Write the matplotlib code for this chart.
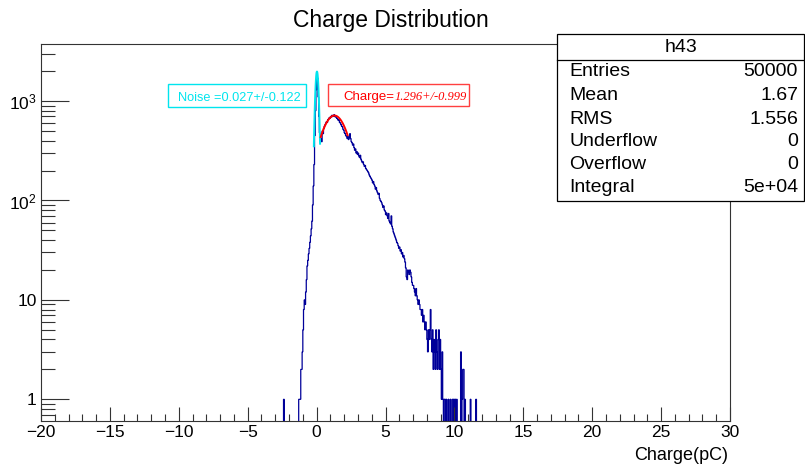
import numpy as np
import matplotlib
matplotlib.use("Agg")
import matplotlib.pyplot as plt
from matplotlib.patches import Rectangle
from matplotlib.lines import Line2D
from matplotlib.ticker import FixedLocator, FixedFormatter, MultipleLocator

# ---------------- data ----------------
title = "Charge Distribution"
x_label = "Charge(pC)"
x_range = (-20.0, 30.0)
bin_width = 0.05
# counts per 0.05 pC bin starting at -2.5 pC
counts_start = -2.5
counts = [
    0, 0, 1, 0, 0, 0, 0, 0, 0, 0,            # -2.50 .. -2.05
    0, 0, 0, 0, 0, 0, 0, 0, 0, 0,            # -2.00 .. -1.55
    0, 0, 0, 0, 1, 1, 1, 2, 2, 3,            # -1.50 .. -1.05
    5, 8, 10, 9, 12, 16, 22, 25, 29, 33,     # -1.00 .. -0.55
    38, 44, 52, 62, 90, 140, 230, 450, 800, 1300,   # -0.50 .. -0.05
    1950, 1700, 1100, 700, 480, 400, 420, 390, 500, 470,  # 0.00 .. 0.45
    530, 560, 580, 600, 620, 610, 650, 660, 680, 670,     # 0.50 .. 0.95
    700, 690, 720, 700, 710, 730, 700, 690, 700, 670,     # 1.00 .. 1.45
    660, 640, 650, 610, 600, 580, 560, 550, 520, 510,     # 1.50 .. 1.95
    480, 470, 450, 440, 420, 440, 410, 430, 470, 420,     # 2.00 .. 2.45
    390, 380, 360, 370, 340, 320, 330, 300, 310, 290,     # 2.50 .. 2.95
    300, 280, 270, 285, 260, 250, 240, 245, 230, 220,     # 3.00 .. 3.45
    225, 210, 205, 200, 195, 190, 180, 175, 170, 165,     # 3.50 .. 3.95
    160, 150, 155, 145, 140, 130, 135, 125, 120, 115,     # 4.00 .. 4.45
    118, 105, 100, 98, 95, 90, 85, 88, 80, 78,            # 4.50 .. 4.95
    72, 75, 70, 66, 74, 62, 60, 58, 70, 55,               # 5.00 .. 5.45
    52, 48, 46, 44, 42, 40, 38, 37, 35, 33,               # 5.50 .. 5.95
    34, 31, 32, 29, 30, 27, 28, 26, 24, 21,               # 6.00 .. 6.45
    17, 16, 20, 19, 18, 20, 19, 17, 15, 14,               # 6.50 .. 6.95
    14, 13, 12, 11, 13, 11, 10, 9, 10, 9,                 # 7.00 .. 7.45
    8, 8, 7, 8, 6, 7, 6, 5, 6, 5,                         # 7.50 .. 7.95
    4, 3, 5, 4, 5, 8, 4, 3, 5, 2,                         # 8.00 .. 8.45
    4, 3, 2, 5, 3, 2, 4, 5, 2, 4,                         # 8.50 .. 8.95
    2, 1, 3, 1, 0, 1, 1, 0, 1, 0,                         # 9.00 .. 9.45
    0, 1, 0, 0, 1, 0, 0, 1, 1, 0,                         # 9.50 .. 9.95
    1, 1, 0, 1, 0, 0, 0, 0, 0, 3,                         # 10.00 .. 10.45
    0, 1, 2, 2, 0, 1, 0, 0, 0, 0,                         # 10.50 .. 10.95
    0, 0, 0, 1, 0, 0, 0, 0, 0, 0,                         # 11.00 .. 11.45
    0, 1, 0, 0, 0, 0, 0, 0, 0, 0,                         # 11.50 .. 11.95
]

# fit results (Gaussian fits shown in the picture)
noise_amp, noise_mean, noise_sigma = 1980.0, 0.027, 0.122
noise_range = (-0.2, 0.25)
charge_amp, charge_mean, charge_sigma = 715.0, 1.296, 0.999
charge_range = (0.3, 2.25)

stats_name = "h43"
stats_labels = ["Entries", "Mean", "RMS", "Underflow", "Overflow", "Integral"]
stats_values = ["50000", "1.67", "1.556", "0", "0", "5e+04"]

ytick_vals = [1, 10, 100, 1000]
ytick_text = ["1", "10", r"$10^{2}$", r"$10^{3}$"]

# ---------------- figure ----------------
W, H = 805, 466
fig = plt.figure(figsize=(W / 100, H / 100), dpi=100)
plt.rcParams['font.family'] = ['Liberation Sans', 'DejaVu Sans']
plt.rcParams['mathtext.fontset'] = 'custom'
plt.rcParams['mathtext.rm'] = 'Liberation Sans'
plt.rcParams['mathtext.it'] = 'Liberation Sans'

def fx(px):
    return px / W

def fy(py):
    return 1 - py / H

ax_l, ax_r, ax_t, ax_b = 41, 730, 44, 421
ax = fig.add_axes([fx(ax_l), fy(ax_b), (ax_r - ax_l) / W, (ax_b - ax_t) / H])

# full histogram over the axis range
nbins = int(round((x_range[1] - x_range[0]) / bin_width))
edges = x_range[0] + bin_width * np.arange(nbins + 1)
full = np.zeros(nbins)
i0 = int(round((counts_start - x_range[0]) / bin_width))
full[i0:i0 + len(counts)] = counts
vals = np.where(full > 0, full, 1e-3)  # empty bins drop below the frame
ax.stairs(vals, edges, color="#000099", lw=0.9, baseline=None)

def gauss(x, a, m, s):
    return a * np.exp(-0.5 * ((x - m) / s) ** 2)

xn = np.linspace(*noise_range, 100)
ax.plot(xn, gauss(xn, noise_amp, noise_mean, noise_sigma), color="#00e5ee", lw=1.4)
xc = np.linspace(*charge_range, 100)
ax.plot(xc, gauss(xc, charge_amp, charge_mean, charge_sigma), color="#ff0000", lw=1.4)

ax.set_yscale("log")
ax.set_xlim(*x_range)
ax.set_ylim(0.605, 3750)

ax.xaxis.set_major_locator(MultipleLocator(5))
ax.xaxis.set_minor_locator(MultipleLocator(1))
ax.yaxis.set_major_locator(FixedLocator(ytick_vals))
ax.yaxis.set_major_formatter(FixedFormatter(ytick_text))
minors = [m * 10 ** e for e in range(-1, 4) for m in range(2, 10)]
ax.yaxis.set_minor_locator(FixedLocator(minors))
ax.yaxis.set_minor_formatter(FixedFormatter([""] * len(minors)))

ax.tick_params(axis="x", which="major", direction="in", length=10, width=0.8,
               labelsize=12.5, pad=3, top=False, color="#333333")
ax.tick_params(axis="x", which="minor", direction="in", length=5, width=0.8, top=False, color="#333333")
ax.tick_params(axis="y", which="major", direction="in", length=20, width=0.8,
               labelsize=12.5, pad=3, right=False, color="#333333")
ax.tick_params(axis="y", which="minor", direction="in", length=10, width=0.8, right=False, color="#333333")
for sp in ax.spines.values():
    sp.set_linewidth(0.8)
    sp.set_color("#333333")

# title & x label
fig.text(fx(391), fy(20), title, ha="center", va="center", fontsize=16.5)
fig.text(fx(728), fy(455), x_label, ha="right", va="center", fontsize=13)

# fit labels
fig.patches.append(Rectangle((fx(168), fy(107)), fx(306) - fx(168), fy(84) - fy(107),
                             transform=fig.transFigure, fill=True, facecolor="white",
                             edgecolor="#00e5ee", lw=1.0, zorder=5))
fig.text(fx(239), fy(98), "Noise =0.027+/-0.122", ha="center", va="center",
         fontsize=9.2, color="#00e5ee", zorder=6)
fig.patches.append(Rectangle((fx(328), fy(106)), fx(469) - fx(328), fy(84) - fy(106),
                             transform=fig.transFigure, fill=True, facecolor="white",
                             edgecolor="#ff4040", lw=1.0, zorder=5))
t_ch = fig.text(fx(343), fy(97), "Charge=", ha="left", va="center",
                fontsize=9.5, color="#ff0000", zorder=6)
fig.canvas.draw()
bb = t_ch.get_window_extent(renderer=fig.canvas.get_renderer())
fig.text(bb.x1 / W + 0.5 / W, fy(97), "1.296+/-0.999", ha="left", va="center",
         fontsize=9, color="#ff0000", zorder=6, style="italic",
         family=["Liberation Serif", "DejaVu Serif"])

# stats box
bx0, bx1, by0, by1 = 557, 804, 34, 201
fig.patches.append(Rectangle((fx(bx0), fy(by1)), fx(bx1) - fx(bx0), fy(by0) - fy(by1),
                             transform=fig.transFigure, facecolor="white",
                             edgecolor="black", lw=0.9, zorder=7))
fig.lines.append(Line2D([fx(bx0), fx(bx1)], [fy(60), fy(60)], transform=fig.transFigure,
                        color="black", lw=0.9, zorder=8))
fig.text(fx((bx0 + bx1) / 2), fy(47), stats_name, ha="center", va="center", fontsize=14, zorder=9)
row_y = [72, 96, 119, 142, 165, 187]
for lab, val, yy in zip(stats_labels, stats_values, row_y):
    fig.text(fx(569), fy(yy), lab, ha="left", va="center", fontsize=14, zorder=9)
    fig.text(fx(798), fy(yy), val, ha="right", va="center", fontsize=14, zorder=9)

fig.savefig("out.png", dpi=100)
